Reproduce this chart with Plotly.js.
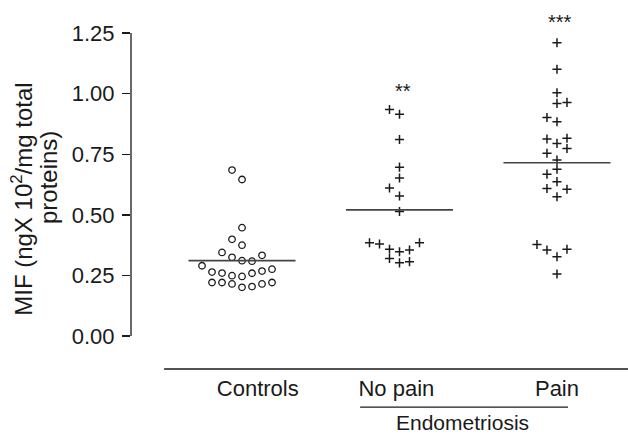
<!DOCTYPE html>
<html>
<head>
<meta charset="utf-8">
<script src="https://cdn.plot.ly/plotly-3.0.1.min.js"></script>
<style>
  html, body { margin: 0; padding: 0; background: #fff; }
  #chart { width: 628px; height: 435px; }
</style>
</head>
<body>
<div id="chart"></div>
<script>
// MIF levels (ng x 10^2 / mg total proteins) per subject, with the
// horizontal slot each dot occupies in its column of the dot plot.
const groupNames = ['Controls', 'No pain', 'Pain'];

const controlsMIF = [0.685, 0.646, 0.447, 0.399, 0.375, 0.345, 0.325, 0.311, 0.309, 0.333,
                     0.290, 0.264, 0.260, 0.249, 0.246, 0.259, 0.268, 0.276,
                     0.221, 0.221, 0.215, 0.201, 0.204, 0.215, 0.221];
const controlsSlot = [-1, 0, 0, -1, 0, -2, -1, 0, 1, 2,
                      -4, -3, -2, -1, 0, 1, 2, 3,
                      -3, -2, -1, 0, 1, 2, 3];

const noPainMIF = [0.935, 0.915, 0.811, 0.697, 0.652, 0.611, 0.578, 0.514,
                   0.385, 0.380, 0.358, 0.348, 0.355, 0.385, 0.320, 0.302, 0.307];
const noPainSlot = [-1, 0, 0, 0, 0, -1, 0, 0,
                    -3, -2, -1, 0, 1, 2, -1, 0, 1];

const painMIF = [1.210, 1.101, 1.004, 0.960, 0.964, 0.902, 0.884, 0.813, 0.795, 0.816,
                 0.774, 0.754, 0.726, 0.688, 0.668, 0.637, 0.609, 0.606, 0.575,
                 0.378, 0.355, 0.327, 0.358, 0.256];
const painSlot = [0, 0, 0, 0, 1, -1, 0, -1, 0, 1,
                  1, -1, 0, 0, -1, 0, -1, 1, 0,
                  -2, -1, 0, 1, 0];

// significance vs. controls
const sigLabels = ['', '**', '***'];
const sigMIF = [null, 1.031, 1.316];

const yTicks = [0, 0.25, 0.5, 0.75, 1.0, 1.25];

// ---- drawing ----
const SLOT = 0.0635;          // horizontal step between neighbouring dots
const HALF = 0.34;            // half-width of the mean bar
const ink = '#1a1a1a';
const FONT = 'Liberation Sans, Arial, Helvetica, sans-serif';
const FS = 22;

const groups = [
  {mif: controlsMIF, slot: controlsSlot, symbol: 'circle-open', size: 6.5, lw: 1.3},
  {mif: noPainMIF, slot: noPainSlot, symbol: 'cross-thin-open', size: 6.5, lw: 1.5},
  {mif: painMIF, slot: painSlot, symbol: 'cross-thin-open', size: 6.5, lw: 1.5}
];

const traces = [];
const shapes = [];
const annotations = [];
groups.forEach((g, i) => {
  traces.push({
    type: 'scatter', mode: 'markers', name: groupNames[i],
    x: g.slot.map(s => i + s * SLOT),
    y: g.mif,
    marker: {symbol: g.symbol, size: g.size, color: ink, line: {color: ink, width: g.lw}},
    hoverinfo: 'y', showlegend: false
  });
  const mean = g.mif.reduce((a, b) => a + b, 0) / g.mif.length;
  shapes.push({type: 'line', xref: 'x', yref: 'y', x0: i - HALF, x1: i + HALF,
               y0: mean, y1: mean, line: {color: '#444', width: 1.6}});
  if (sigLabels[i]) {
    annotations.push({text: sigLabels[i], xref: 'x', yref: 'y', x: i + 0.02, y: sigMIF[i],
                      yshift: -5, showarrow: false, xanchor: 'center', yanchor: 'middle',
                      font: {family: FONT, size: 20, color: ink}});
  }
});

// y axis spine only over the tick range
shapes.push({type: 'line', xref: 'paper', yref: 'y', x0: 0, x1: 0, y0: 0, y1: 1.25,
             line: {color: ink, width: 1.3}});
// baseline under the columns
shapes.push({type: 'line', xref: 'x', yref: 'paper', x0: -0.495, x1: 2.46, y0: 0, y1: 0,
             line: {color: ink, width: 1.3}});
// bracket grouping the two endometriosis columns
shapes.push({type: 'line', xref: 'x', yref: 'paper', x0: 0.75, x1: 2.07, y0: -0.105, y1: -0.105,
             line: {color: ink, width: 1.3}});

annotations.push(
  {text: 'MIF (ngX 10<sup>2</sup>/mg total', textangle: -90, xref: 'paper', yref: 'y',
   x: -0.22, y: 0.565, showarrow: false, font: {family: FONT, size: 24, color: ink},
   xanchor: 'center', yanchor: 'middle'},
  {text: 'proteins)', textangle: -90, xref: 'paper', yref: 'y',
   x: -0.167, y: 0.652, showarrow: false, font: {family: FONT, size: 24, color: ink},
   xanchor: 'center', yanchor: 'middle'},
  {text: 'Endometriosis', xref: 'x', yref: 'paper', x: 1.40, y: -0.148,
   showarrow: false, font: {family: FONT, size: 21, color: ink},
   xanchor: 'center', yanchor: 'middle'}
);

const layout = {
  width: 628, height: 435,
  margin: {l: 131, r: 0, t: 5, b: 66},
  paper_bgcolor: '#fff', plot_bgcolor: '#fff',
  font: {family: FONT, size: FS, color: ink},
  showlegend: false,
  xaxis: {
    range: [-0.705, 2.451], showgrid: false, zeroline: false, showline: false,
    tickmode: 'array', tickvals: [0.1, 0.98, 2.0], ticktext: groupNames,
    ticks: '', ticklabelstandoff: 4, tickfont: {family: FONT, size: FS, color: ink}
  },
  yaxis: {
    range: [-0.136, 1.366], showgrid: false, zeroline: false, showline: false,
    tickmode: 'array', tickvals: yTicks, tickformat: '.2f',
    ticks: 'outside', ticklen: 8, tickwidth: 1.3, tickcolor: ink,
    ticklabelstandoff: 3,
    tickfont: {family: FONT, size: FS, color: ink}
  },
  shapes: shapes,
  annotations: annotations
};

Plotly.newPlot('chart', traces, layout, {staticPlot: true, displayModeBar: false});
</script>
</body>
</html>
